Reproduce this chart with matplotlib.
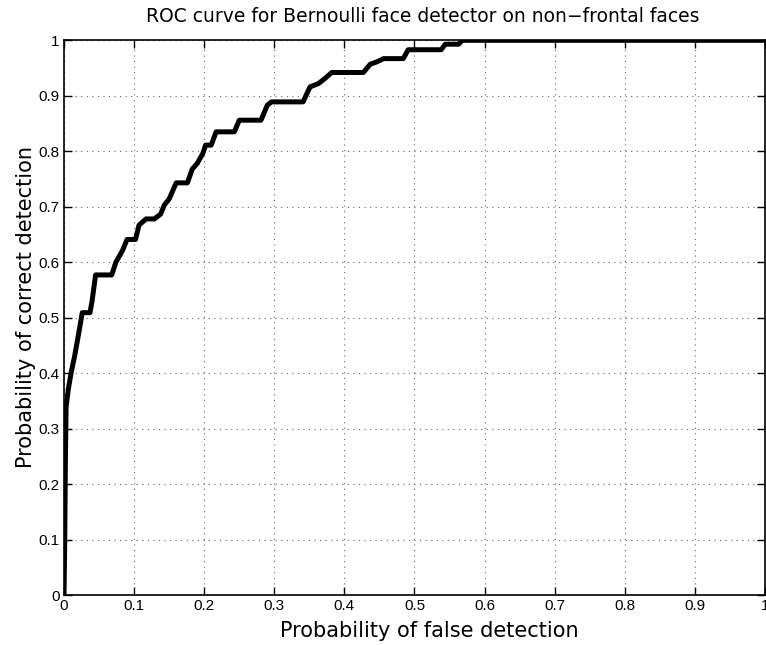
import matplotlib
matplotlib.use("Agg")
import matplotlib.pyplot as plt

plt.rcParams['font.family'] = ['Liberation Sans', 'DejaVu Sans']

false_det = [0, 0.001, 0.002, 0.003, 0.006, 0.010, 0.015, 0.020, 0.026, 0.037, 0.040,
             0.045, 0.068, 0.074, 0.083, 0.090, 0.102, 0.107, 0.117, 0.129, 0.138,
             0.143, 0.150, 0.160, 0.176, 0.183, 0.190, 0.198, 0.202, 0.210, 0.217,
             0.243, 0.250, 0.281, 0.290, 0.296, 0.341, 0.351, 0.363, 0.372, 0.382,
             0.427, 0.437, 0.446, 0.456, 0.484, 0.491, 0.538, 0.544, 0.563, 0.568, 1.0]
correct_det = [0, 0.10, 0.25, 0.34, 0.37, 0.40, 0.43, 0.465, 0.509, 0.509, 0.53,
               0.577, 0.577, 0.60, 0.62, 0.641, 0.641, 0.667, 0.678, 0.678, 0.687,
               0.703, 0.714, 0.743, 0.743, 0.768, 0.778, 0.796, 0.811, 0.811, 0.835,
               0.835, 0.856, 0.856, 0.883, 0.889, 0.889, 0.916, 0.922, 0.931, 0.942,
               0.942, 0.957, 0.961, 0.967, 0.967, 0.983, 0.983, 0.993, 0.993, 1.0, 1.0]
tick_vals = [0, 0.1, 0.2, 0.3, 0.4, 0.5, 0.6, 0.7, 0.8, 0.9, 1]
tick_labels = ["0", "0.1", "0.2", "0.3", "0.4", "0.5", "0.6", "0.7", "0.8", "0.9", "1"]

fig = plt.figure(figsize=(7.66, 6.45), dpi=100)
ax = fig.add_axes([0.0836, 0.0775, 0.915, 0.860])

ax.plot(false_det, correct_det, color='black', lw=3.6, solid_joinstyle='round')

ax.set_xlim(0, 1)
ax.set_ylim(0, 1)
ax.set_xticks(tick_vals)
ax.set_xticklabels(tick_labels)
ax.set_yticks(tick_vals)
ax.set_yticklabels(tick_labels)
ax.tick_params(direction='in', length=6, width=1, labelsize=11, top=True, right=True, pad=3)
ax.grid(True, color='0.4', linestyle=(0, (1, 4)), linewidth=0.8)
for s in ax.spines.values():
    s.set_linewidth(1.2)

lab_font = ['DejaVu Sans']
ax.set_title("ROC curve for Bernoulli face detector on non\u2212frontal faces",
             fontsize=13.5, pad=13, family=lab_font, x=0.512)
ax.set_xlabel("Probability of false detection", fontsize=15, family=lab_font)
ax.set_ylabel("Probability of correct detection", fontsize=15, family=lab_font)
ax.xaxis.set_label_coords(0.521, -0.046)
ax.yaxis.set_label_coords(-0.040, 0.52)

fig.savefig("out.png", dpi=100)
